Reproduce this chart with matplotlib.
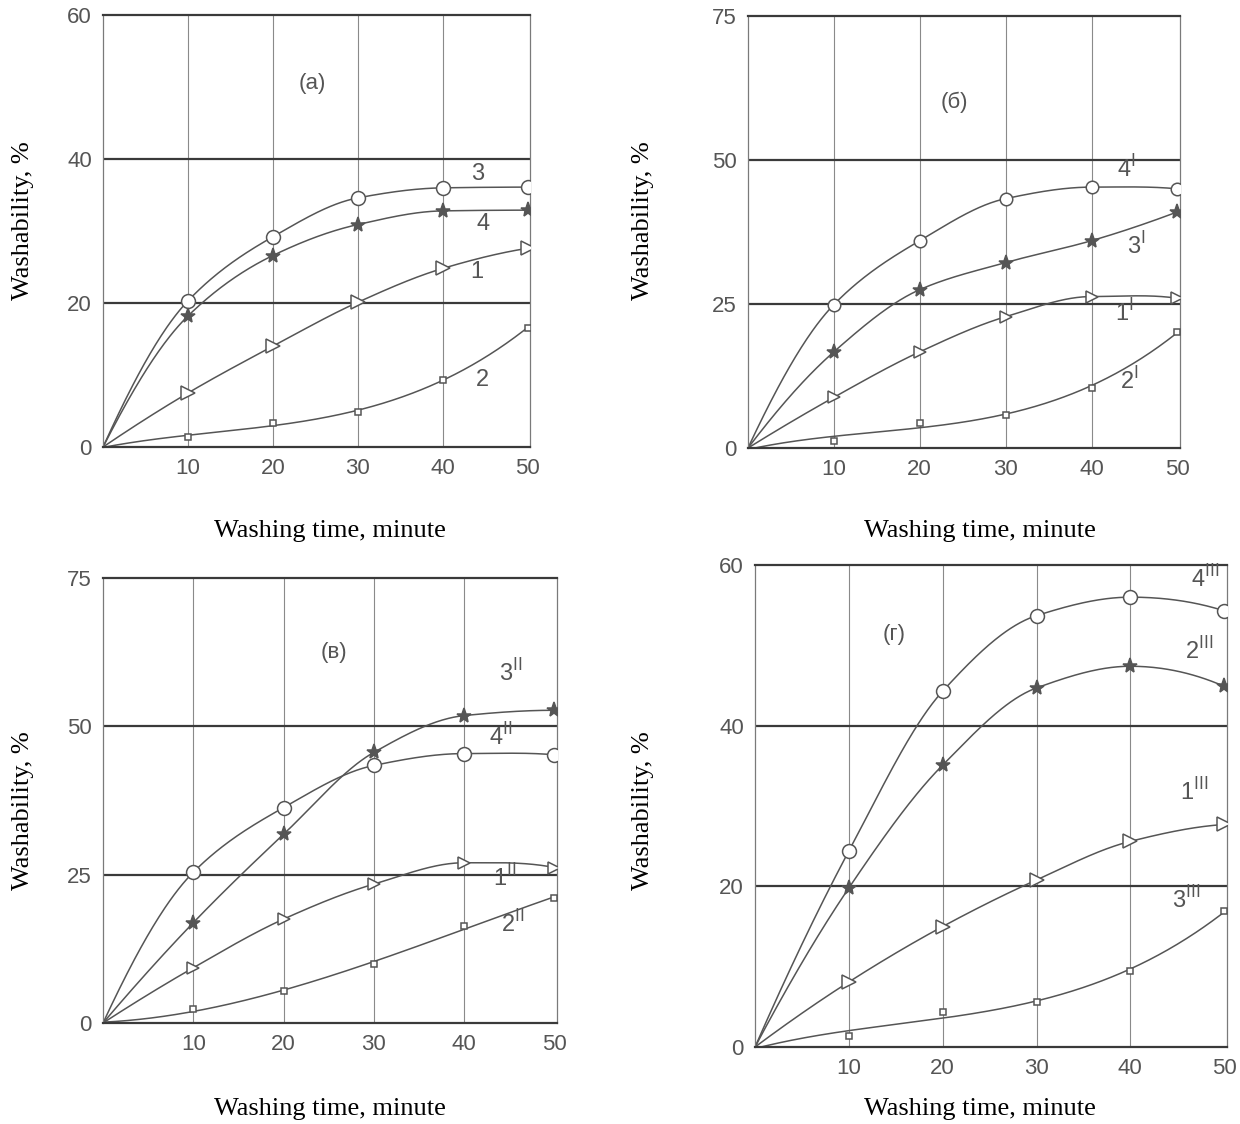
import numpy as np
import matplotlib
matplotlib.use('Agg')
import matplotlib.pyplot as plt

# washing time, minutes (curves start at the origin)
t = [0, 10, 20, 30, 40, 50]

# (a)
a_1 = [0, 7.5, 14.0, 20.1, 24.8, 27.6]
a_2 = [0, 1.4, 3.3, 4.9, 9.3, 16.6]
a_3 = [0, 20.3, 29.2, 34.6, 36.0, 36.1]
a_4 = [0, 18.2, 26.6, 30.9, 32.8, 32.9]

# (б)
b_1 = [0, 8.8, 16.7, 22.8, 26.3, 26.0]
b_2 = [0, 1.2, 4.4, 5.8, 10.5, 20.2]
b_3 = [0, 16.7, 27.5, 32.2, 36.0, 41.0]
b_4 = [0, 24.9, 36.0, 43.3, 45.3, 45.0]

# (в)
v_1 = [0, 9.3, 17.5, 23.4, 27.0, 26.2]
v_2 = [0, 2.3, 5.4, 9.9, 16.3, 21.1]
v_3 = [0, 16.9, 31.8, 45.6, 51.8, 52.7]
v_4 = [0, 25.4, 36.3, 43.4, 45.4, 45.2]

# (г)
g_1 = [0, 8.1, 15.0, 20.8, 25.6, 27.7]
g_2 = [0, 19.8, 35.1, 44.7, 47.4, 44.9]
g_3 = [0, 1.4, 4.3, 5.6, 9.5, 16.9]
g_4 = [0, 24.4, 44.3, 53.7, 56.0, 54.3]

ystep_a, ystep_b, ystep_v, ystep_g = 20, 25, 25, 20

GRAY = '#555555'
NUMFONT = ['Liberation Sans', 'DejaVu Sans']

fig = plt.figure(figsize=(12.4, 11.24), dpi=100)

boxes = {
    'a': [0.0831, 0.6023, 0.3444, 0.3843],
    'b': [0.6032, 0.6014, 0.3484, 0.3843],
    'v': [0.0831, 0.0899, 0.3661, 0.3959],
    'g': [0.6089, 0.0685, 0.3806, 0.4288],
}


def smooth(x, y, xs):
    # monotone cubic (pchip) just for drawing the curve through the markers
    x = np.asarray(x, float)
    y = np.asarray(y, float)
    h = np.diff(x)
    d = np.diff(y) / h
    n = len(x)
    m = np.zeros(n)
    for k in range(1, n - 1):
        if d[k - 1] * d[k] > 0:
            w1 = 2 * h[k] + h[k - 1]
            w2 = h[k] + 2 * h[k - 1]
            m[k] = (w1 + w2) / (w1 / d[k - 1] + w2 / d[k])
    m[0] = ((2 * h[0] + h[1]) * d[0] - h[0] * d[1]) / (h[0] + h[1])
    if np.sign(m[0]) != np.sign(d[0]):
        m[0] = 0
    m[-1] = ((2 * h[-1] + h[-2]) * d[-1] - h[-1] * d[-2]) / (h[-1] + h[-2])
    if np.sign(m[-1]) != np.sign(d[-1]):
        m[-1] = 0
    idx = np.clip(np.searchsorted(x, xs) - 1, 0, n - 2)
    s = (xs - x[idx]) / h[idx]
    h00 = 2 * s**3 - 3 * s**2 + 1
    h10 = s**3 - 2 * s**2 + s
    h01 = -2 * s**3 + 3 * s**2
    h11 = s**3 - s**2
    return (h00 * y[idx] + h10 * h[idx] * m[idx] + h01 * y[idx + 1]
            + h11 * h[idx] * m[idx + 1])


def panel(box, ystep, curves, letter, letter_xy):
    ax = fig.add_axes(box)
    ymax = ystep * 3
    ax.set_xlim(0, 50.3)
    ax.set_ylim(0, ymax)
    for xv in [10, 20, 30, 40]:
        ax.axvline(xv, color='#8a8a8a', lw=0.8, zorder=1)
    for yv in [ystep, 2 * ystep]:
        ax.axhline(yv, color='#3a3a3a', lw=1.6, zorder=1)
    for s in ['top', 'bottom']:
        ax.spines[s].set_color('#3a3a3a')
        ax.spines[s].set_linewidth(1.6)
    for s in ['left', 'right']:
        ax.spines[s].set_color('#7a7a7a')
        ax.spines[s].set_linewidth(0.9)

    xs = np.linspace(0, 50, 300)
    for y, mk, ms, lab, lx, ly in curves:
        if mk == 's':
            # the square-marker curves are a smooth fit, markers sit off the line
            ys = np.polyval(np.polyfit(t, y, 3), xs)
        else:
            ys = smooth(t, y, xs)
        ax.plot(xs, ys, color=GRAY, lw=1.1, zorder=2)
        ax.plot(t[1:], y[1:], linestyle='none', marker=mk, ms=ms,
                mfc='white' if mk != '*' else GRAY, mec=GRAY, mew=1.1, zorder=3)
        ax.text(lx, ly, lab, fontsize=17, color=GRAY, family=NUMFONT,
                ha='center', va='center')

    ax.text(letter_xy[0], letter_xy[1], letter, fontsize=16, color=GRAY,
            family=NUMFONT, ha='center', va='center')

    ax.set_xticks([10, 20, 30, 40, 50])
    ax.set_yticks([0, ystep, 2 * ystep, ymax])
    ax.tick_params(length=0, labelsize=16, labelcolor=GRAY, pad=8)
    for lbl in ax.get_xticklabels() + ax.get_yticklabels():
        lbl.set_family(NUMFONT)
    return ax


panel(boxes['a'], ystep_a, [
    (a_3, 'o', 10, '3', 44.1, 37.9),
    (a_4, '*', 11, '4', 44.8, 31.0),
    (a_1, '>', 10, '1', 44.0, 24.3),
    (a_2, 's', 5, '2', 44.7, 9.3),
], '(a)', (24.6, 50.5))

panel(boxes['b'], ystep_b, [
    (b_4, 'o', 9, '4$^{\\rm I}$', 44.0, 48.5),
    (b_3, '*', 11, '3$^{\\rm I}$', 45.2, 35.0),
    (b_1, '>', 9, '1$^{\\rm I}$', 43.8, 23.5),
    (b_2, 's', 5, '2$^{\\rm I}$', 44.4, 11.7),
], '(б)', (24.0, 60.0))

panel(boxes['v'], ystep_v, [
    (v_3, '*', 11, '3$^{\\rm II}$', 45.2, 58.9),
    (v_4, 'o', 10, '4$^{\\rm II}$', 44.1, 48.2),
    (v_1, '>', 9, '1$^{\\rm II}$', 44.5, 24.5),
    (v_2, 's', 5, '2$^{\\rm II}$', 45.4, 16.6),
], '(в)', (25.6, 62.5))

panel(boxes['g'], ystep_g, [
    (g_4, 'o', 10, '4$^{\\rm III}$', 48.0, 58.3),
    (g_2, '*', 11, '2$^{\\rm III}$', 47.3, 49.3),
    (g_1, '>', 10, '1$^{\\rm III}$', 46.8, 31.7),
    (g_3, 's', 5, '3$^{\\rm III}$', 45.9, 18.3),
], '(г)', (14.8, 51.4))

serif = ['Liberation Serif', 'DejaVu Serif']
for (x, y) in [(0.0185, 0.804), (0.5185, 0.804), (0.0185, 0.279), (0.5185, 0.279)]:
    fig.text(x, y, 'Washability, %', rotation=90, fontsize=19, family=serif,
             ha='center', va='center')
for (x, y) in [(0.266, 0.528), (0.79, 0.528), (0.266, 0.013), (0.79, 0.013)]:
    fig.text(x, y, 'Washing time, minute', fontsize=19, family=serif,
             ha='center', va='center')

fig.savefig('out.png', dpi=100)
